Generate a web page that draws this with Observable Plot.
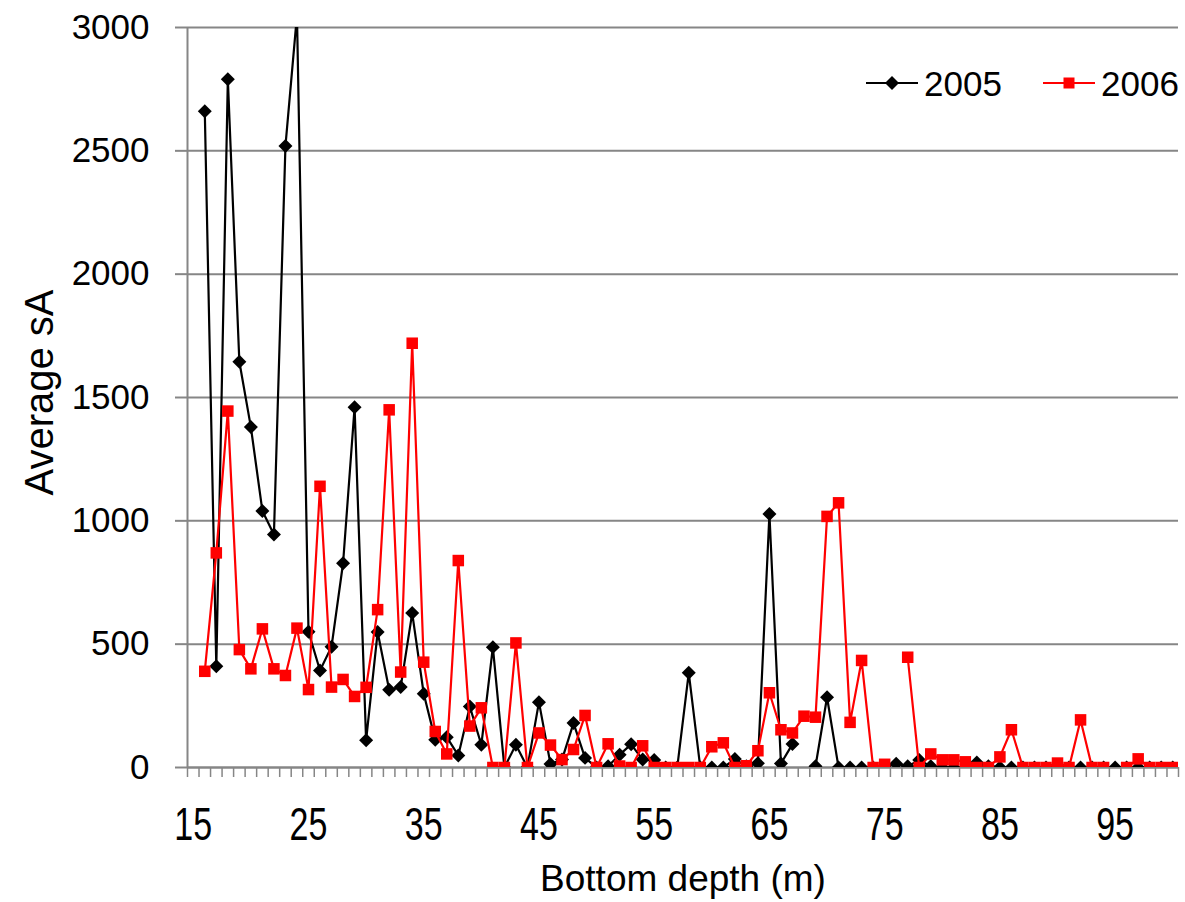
<!DOCTYPE html>
<html>
<head>
<meta charset="utf-8">
<script src="https://cdn.jsdelivr.net/npm/d3@7"></script>
<script src="https://cdn.jsdelivr.net/npm/@observablehq/plot@0.6"></script>
<style>
  html, body { margin: 0; padding: 0; background: #fff; }
  #wrap { position: relative; width: 1185px; height: 902px; font-family: "Liberation Sans", Arial, sans-serif; }
  #legend { position: absolute; left: 860px; top: 60px; }
</style>
</head>
<body>
<div id="wrap">
  <div id="chart"></div>
  <svg id="legend" width="325" height="48" font-family="Liberation Sans, Arial, sans-serif" font-size="35">
    <line x1="6" y1="23" x2="58" y2="23" stroke="#000" stroke-width="2"/>
    <path d="M32,16 L39,23 L32,30 L25,23 Z" fill="#000"/>
    <text x="64" y="36">2005</text>
    <line x1="183" y1="23" x2="235" y2="23" stroke="#ff0000" stroke-width="2"/>
    <rect x="203.5" y="17.5" width="11" height="11" fill="#ff0000"/>
    <text x="241" y="36">2006</text>
  </svg>
</div>
<script>
// Bottom depth categories (m)
const depths = [16,17,18,19,20,21,22,23,24,25,26,27,28,29,30,31,32,33,34,35,36,37,38,39,40,
  41,42,43,44,45,46,47,48,49,50,51,52,53,54,55,56,57,58,59,60,61,62,63,64,65,66,67,68,69,70,
  71,72,73,74,75,76,77,78,79,80,81,82,83,84,85,86,87,88,89,90,91,92,93,94,95,96,97,98,99,100];

// Average sA, 2005 (null = no data)
const sA2005 = [2660,410,2790,1645,1380,1040,945,2520,3050,550,393,490,828,1460,110,549,315,326,626,299,
  112,123,49,247,92,488,0,92,0,265,14,32,180,39,0,5,52,94,32,30,0,0,384,0,0,0,34,5,17,1028,16,95,null,5,285,
  0,0,0,0,5,15,5,30,5,0,0,0,20,5,0,0,0,0,0,10,0,0,0,0,0,0,0,0,0,0];

// Average sA, 2006 (null = no data)
const sA2006 = [390,870,1445,478,400,562,400,373,565,316,1140,326,357,288,325,640,1450,387,1720,427,
  146,55,839,168,242,0,0,505,0,140,91,32,73,211,0,96,6,0,88,0,0,0,0,0,84,100,0,7,68,303,153,140,208,204,1018,
  1073,183,434,0,13,null,447,0,55,31,31,23,0,0,43,153,0,0,0,18,0,193,0,0,null,0,35,0,0,0];

const seriesNames = ["2005", "2006"];
const yTicks = [0, 500, 1000, 1500, 2000, 2500, 3000];
const xTickLabels = [15, 25, 35, 45, 55, 65, 75, 85, 95];
const allCategories = [15, ...depths];

const d05 = depths.map((d, i) => ({depth: d, sA: sA2005[i]}));
const d06 = depths.map((d, i) => ({depth: d, sA: sA2006[i]}));
const boundaries = allCategories.map(c => c - 0.5).concat([allCategories[allCategories.length - 1] + 0.5]);
const xDomain = [boundaries[0], boundaries[boundaries.length - 1]];

const gray = "#868686";
const chart = Plot.plot({
  width: 1185,
  height: 902,
  marginLeft: 187,
  marginRight: 7,
  marginTop: 27,
  marginBottom: 135,
  style: {fontFamily: "Liberation Sans, Arial, sans-serif", background: "#fff", overflow: "visible"},
  x: {type: "linear", domain: xDomain},
  y: {domain: [0, 3000]},
  marks: [
    Plot.gridY(yTicks, {stroke: gray, strokeOpacity: 1, strokeWidth: 2}),
    Plot.axisY(yTicks, {tickSize: 12, tickPadding: 26, stroke: gray, strokeWidth: 2, fontSize: 35, fill: "#000", label: null, tickFormat: d => String(d)}),
    Plot.axisX(boundaries, {tickSize: 10, tickPadding: 0, stroke: gray, strokeWidth: 1.5, tickFormat: () => "", label: null}),
    Plot.axisX(xTickLabels, {tickSize: 0, tickPadding: 40, fontSize: 46, fill: "#000", label: null, tickFormat: d => String(d)}),
    Plot.ruleX([xDomain[0]], {stroke: gray, strokeWidth: 2}),
    Plot.ruleY([0], {stroke: gray, strokeWidth: 2}),
    Plot.lineY(d05, {x: "depth", y: "sA", stroke: "#000", strokeWidth: 2.2, clip: true}),
    Plot.dot(d05, {x: "depth", y: "sA", symbol: "diamond2", fill: "#000", stroke: "none", r: 6.3, clip: true}),
    Plot.lineY(d06, {x: "depth", y: "sA", stroke: "#ff0000", strokeWidth: 2.2, clip: true}),
    Plot.dot(d06, {x: "depth", y: "sA", symbol: "square", fill: "#ff0000", stroke: "none", r: 6.5, clip: true}),
    Plot.text(["Bottom depth (m)"], {frameAnchor: "bottom", dy: 112, fontSize: 37, fill: "#000", lineAnchor: "middle", textAnchor: "middle", ariaLabel: "x-title"}),
    Plot.text(["Average sA"], {frameAnchor: "left", rotate: -90, dx: -147, dy: -5, fontSize: 40, fill: "#000", textAnchor: "middle", lineAnchor: "middle", ariaLabel: "y-title"})
  ]
});
document.getElementById("chart").appendChild(chart);

// Condense the x tick labels horizontally (tall, narrow digits as in the original)
function condense(sel, s) {
  chart.querySelectorAll(sel).forEach(t => {
    const parent = t.parentNode;
    const r = t.getBoundingClientRect();
    const inv = parent.getScreenCTM().inverse();
    const p = new DOMPoint(r.x + r.width / 2, r.y + r.height / 2).matrixTransform(inv);
    const g = document.createElementNS("http://www.w3.org/2000/svg", "g");
    g.setAttribute("transform", `translate(${p.x},0) scale(${s},1) translate(${-p.x},0)`);
    parent.insertBefore(g, t);
    g.appendChild(t);
  });
}
condense('g[aria-label="x-axis tick label"] text', 0.74);
</script>
</body>
</html>
